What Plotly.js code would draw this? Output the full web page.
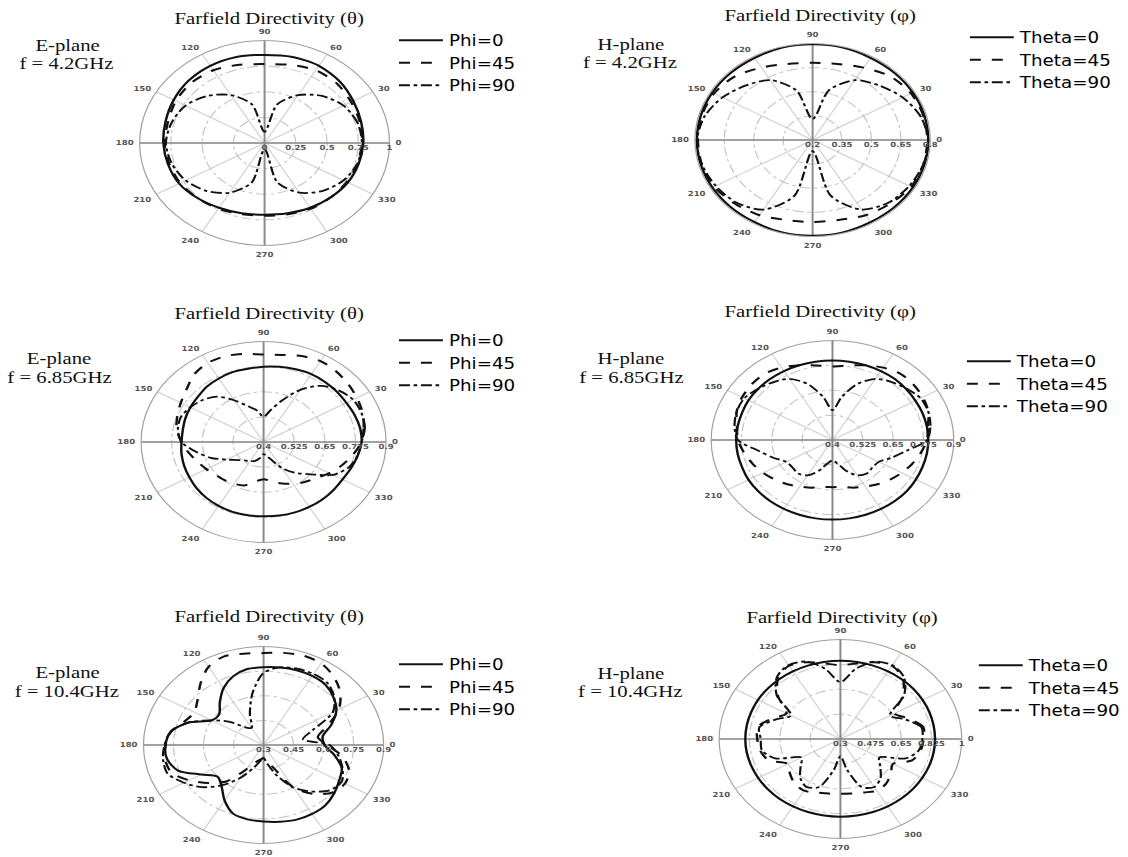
<!DOCTYPE html>
<html><head><meta charset="utf-8">
<script src="https://cdn.plot.ly/plotly-3.0.1.min.js"></script>
<style>
html,body{margin:0;padding:0;background:#fff;overflow:hidden}
/* the reference figure is stretched horizontally; reproduce that stretch */
#chart{width:925px;height:857px;transform:scaleX(1.21946);transform-origin:0 0}
</style>
</head><body><div id="chart"></div>
<script>
// ---------- data ----------
const angles15 = [0,15,30,45,60,75,90,105,120,135,150,165,180,195,210,225,240,255,270,285,300,315,330,345];
const angles10 = [0,10,20,30,40,50,60,70,80,90,100,110,120,130,140,150,160,170,180,190,200,210,220,230,240,250,260,270,280,290,300,310,320,330,340,350];
const angTickVals = [0,30,60,90,120,150,180,210,240,270,300,330];

const phiNames = ['Phi=0','Phi=45','Phi=90'];
const thetaNames = ['Theta=0','Theta=45','Theta=90'];

// E-plane 4.2 GHz
const rTicksE42 = [0,0.25,0.5,0.75,1];
const e42Phi0  = [0.79,0.80,0.82,0.85,0.87,0.87,0.86,0.87,0.87,0.86,0.84,0.82,0.81,0.80,0.79,0.76,0.73,0.71,0.70,0.71,0.73,0.75,0.77,0.78];
const e42Phi45 = [0.78,0.79,0.80,0.82,0.82,0.79,0.77,0.79,0.82,0.83,0.82,0.80,0.80,0.79,0.78,0.76,0.74,0.72,0.71,0.72,0.74,0.75,0.76,0.77];
const e42Phi90 = [0.78,0.77,0.73,0.65,0.54,0.39,0.11,0.39,0.54,0.65,0.73,0.77,0.79,0.77,0.73,0.66,0.56,0.40,0.06,0.40,0.56,0.66,0.73,0.77];

// H-plane 4.2 GHz
const rTicksH42 = [0.2,0.35,0.5,0.65,0.8];
const h42Theta0  = [0.79,0.79,0.79,0.79,0.79,0.795,0.795,0.795,0.79,0.79,0.79,0.79,0.79,0.79,0.79,0.79,0.79,0.795,0.795,0.795,0.79,0.79,0.79,0.79];
const h42Theta45 = [0.785,0.785,0.78,0.76,0.72,0.69,0.68,0.69,0.72,0.76,0.78,0.785,0.785,0.785,0.78,0.76,0.74,0.715,0.71,0.715,0.74,0.76,0.78,0.785];
const h42Theta90 = [0.79,0.77,0.73,0.68,0.63,0.52,0.33,0.52,0.63,0.68,0.73,0.77,0.79,0.785,0.77,0.75,0.70,0.56,0.27,0.56,0.70,0.75,0.77,0.785];

// E-plane 6.85 GHz
const rTicksE685 = [0.4,0.525,0.65,0.775,0.9];
const e685Phi0  = [0.80,0.80,0.795,0.79,0.79,0.79,0.79,0.785,0.78,0.775,0.77,0.77,0.765,0.76,0.75,0.745,0.74,0.735,0.735,0.74,0.745,0.75,0.757,0.763,0.767,0.77,0.77,0.77,0.772,0.773,0.773,0.773,0.772,0.772,0.78,0.79];
const e685Phi45 = [0.80,0.815,0.83,0.84,0.85,0.86,0.865,0.855,0.84,0.835,0.845,0.855,0.855,0.84,0.81,0.79,0.775,0.76,0.735,0.71,0.687,0.67,0.655,0.648,0.64,0.63,0.60,0.585,0.60,0.62,0.64,0.66,0.68,0.71,0.74,0.77];
const e685Phi90 = [0.80,0.82,0.825,0.822,0.80,0.765,0.70,0.62,0.56,0.526,0.56,0.59,0.64,0.695,0.725,0.745,0.76,0.755,0.735,0.68,0.63,0.575,0.54,0.52,0.51,0.50,0.48,0.46,0.47,0.495,0.55,0.60,0.65,0.727,0.77,0.79];

// H-plane 6.85 GHz
const rTicksH685 = [0.4,0.525,0.65,0.775,0.9];
const h685Theta0  = [0.795,0.795,0.795,0.795,0.797,0.80,0.80,0.80,0.80,0.80,0.80,0.80,0.80,0.80,0.80,0.80,0.797,0.797,0.797,0.797,0.797,0.80,0.80,0.80,0.80,0.80,0.80,0.80,0.80,0.80,0.80,0.80,0.80,0.797,0.795,0.795];
const h685Theta45 = [0.79,0.80,0.82,0.83,0.835,0.835,0.82,0.80,0.78,0.77,0.78,0.80,0.82,0.835,0.835,0.83,0.82,0.80,0.79,0.77,0.75,0.73,0.71,0.69,0.67,0.655,0.64,0.637,0.64,0.655,0.67,0.69,0.71,0.73,0.75,0.77];
const h685Theta90 = [0.79,0.81,0.82,0.82,0.80,0.78,0.755,0.70,0.62,0.55,0.62,0.70,0.755,0.78,0.80,0.82,0.82,0.81,0.79,0.71,0.66,0.62,0.615,0.62,0.605,0.565,0.52,0.503,0.52,0.565,0.605,0.62,0.615,0.62,0.66,0.71];

// E-plane 10.4 GHz
const rTicksE104 = [0.3,0.45,0.6,0.75,0.9];
const e104Phi0  = [0.605,0.60,0.66,0.72,0.755,0.78,0.786,0.785,0.78,0.774,0.77,0.745,0.70,0.64,0.59,0.60,0.70,0.77,0.79,0.79,0.755,0.66,0.60,0.627,0.69,0.745,0.76,0.766,0.775,0.784,0.785,0.78,0.76,0.736,0.716,0.66];
const e104Phi45 = [0.62,0.575,0.64,0.735,0.80,0.845,0.875,0.88,0.87,0.86,0.865,0.875,0.85,0.79,0.73,0.70,0.72,0.77,0.79,0.80,0.79,0.73,0.66,0.59,0.47,0.41,0.39,0.38,0.40,0.45,0.60,0.69,0.75,0.77,0.755,0.70];
const e104Phi90 = [0.63,0.50,0.56,0.70,0.76,0.795,0.80,0.795,0.78,0.74,0.62,0.50,0.42,0.44,0.52,0.60,0.70,0.77,0.795,0.81,0.81,0.76,0.70,0.62,0.53,0.45,0.40,0.38,0.42,0.50,0.60,0.67,0.73,0.75,0.72,0.68];

// H-plane 10.4 GHz
const rTicksH104 = [0.3,0.475,0.65,0.825,1];
const h104Theta0  = [0.846,0.846,0.847,0.848,0.85,0.85,0.85,0.85,0.85,0.85,0.85,0.85,0.85,0.85,0.85,0.85,0.849,0.849,0.849,0.849,0.848,0.848,0.848,0.848,0.847,0.847,0.847,0.847,0.847,0.847,0.847,0.847,0.847,0.846,0.846,0.846];
const h104Theta45 = [0.78,0.785,0.72,0.66,0.77,0.86,0.895,0.875,0.84,0.82,0.84,0.875,0.895,0.86,0.77,0.66,0.72,0.785,0.78,0.77,0.74,0.65,0.68,0.71,0.72,0.70,0.69,0.685,0.69,0.70,0.72,0.71,0.68,0.65,0.74,0.77];
const h104Theta90 = [0.773,0.775,0.70,0.63,0.78,0.87,0.90,0.88,0.80,0.70,0.80,0.88,0.90,0.87,0.78,0.63,0.70,0.775,0.76,0.76,0.70,0.56,0.60,0.66,0.69,0.66,0.52,0.42,0.52,0.66,0.69,0.66,0.60,0.56,0.70,0.76];

// ---------- panels (layout settings, positions in final picture pixels) ----------
const W = 1128, H = 857, Wi = 925, S = W / Wi;
const panels = [
  {theta: angles15, ticks: rTicksE42, names: phiNames, series: [e42Phi0, e42Phi45, e42Phi90],
   cx: 266, cy: 143, R: 103, title: 'Farfield Directivity (θ)', tx: 270, ty: 18,
   side1: 'E-plane', side2: 'f = 4.2GHz', sx: 68, sy1: 45, sy2: 64, lx: 395, ly: 24},
  {theta: angles15, ticks: rTicksH42, names: thetaNames, series: [h42Theta0, h42Theta45, h42Theta90],
   cx: 817, cy: 140, R: 97, title: 'Farfield Directivity (φ)', tx: 825, ty: 16,
   side1: 'H-plane', side2: 'f = 4.2GHz', sx: 634, sy1: 44, sy2: 63, lx: 969, ly: 21},
  {theta: angles10, ticks: rTicksE685, names: phiNames, series: [e685Phi0, e685Phi45, e685Phi90],
   cx: 265, cy: 442, R: 101, title: 'Farfield Directivity (θ)', tx: 270, ty: 313,
   side1: 'E-plane', side2: 'f = 6.85GHz', sx: 60, sy1: 358, sy2: 377, lx: 395, ly: 324},
  {theta: angles10, ticks: rTicksH685, names: thetaNames, series: [h685Theta0, h685Theta45, h685Theta90],
   cx: 837, cy: 440, R: 100, title: 'Farfield Directivity (φ)', tx: 825, ty: 311,
   side1: 'H-plane', side2: 'f = 6.85GHz', sx: 635, sy1: 358, sy2: 378, lx: 966, ly: 345},
  {theta: angles10, ticks: rTicksE104, names: phiNames, series: [e104Phi0, e104Phi45, e104Phi90],
   cx: 265, cy: 745, R: 99, title: 'Farfield Directivity (θ)', tx: 270, ty: 616,
   side1: 'E-plane', side2: 'f = 10.4GHz', sx: 68, sy1: 672, sy2: 691, lx: 395, ly: 648},
  {theta: angles10, ticks: rTicksH104, names: thetaNames, series: [h104Theta0, h104Theta45, h104Theta90],
   cx: 845, cy: 739, R: 100, title: 'Farfield Directivity (φ)', tx: 847, ty: 617,
   side1: 'H-plane', side2: 'f = 10.4GHz', sx: 634, sy1: 673, sy2: 691, lx: 978, ly: 649}
];
const dashes = ['solid', 'dash', 'dashdot'];
const widths = [2, 2, 1.8];

const traces = [];
const layout = {
  width: Wi, height: H,
  margin: {l: 0, r: 0, t: 0, b: 0},
  paper_bgcolor: '#fff',
  showlegend: true,
  annotations: []
};

panels.forEach((p, i) => {
  const sub = i === 0 ? 'polar' : 'polar' + (i + 1);
  const leg = i === 0 ? 'legend' : 'legend' + (i + 1);
  const rmin = p.ticks[0], rmax = p.ticks[p.ticks.length - 1];

  // darker crosshair axes through the centre
  traces.push({
    type: 'scatterpolar', subplot: sub, mode: 'lines',
    r: [rmax, rmax, null, rmax, rmax], theta: [0, 180, null, 90, 270],
    line: {color: '#8a8a8a', width: 1.6}, showlegend: false, hoverinfo: 'skip'
  });

  p.series.forEach((vals, k) => {
    traces.push({
      type: 'scatterpolar', subplot: sub, legend: leg,
      mode: 'lines', name: p.names[k],
      r: vals.concat([vals[0]]),
      theta: p.theta.concat([360]),
      line: {color: '#111', width: widths[k], dash: dashes[k], shape: 'spline', smoothing: 0.8}
    });
  });

  const cxi = p.cx / S; // centre in unscaled pixels
  layout[sub] = {
    domain: {
      x: [(cxi - p.R) / Wi, (cxi + p.R) / Wi],
      y: [1 - (p.cy + p.R) / H, 1 - (p.cy - p.R) / H]
    },
    bgcolor: '#fff',
    radialaxis: {
      range: [rmin, rmax], tickmode: 'array', tickvals: p.ticks,
      ticktext: p.ticks.map(String), angle: 0, tickangle: 0, side: 'clockwise',
      showline: false, ticks: '', gridcolor: '#c4c4c4', griddash: 'dashdot', gridwidth: 1,
      tickfont: {family: 'DejaVu Sans', size: 7, color: '#555', weight: 'bold'}
    },
    angularaxis: {
      rotation: 0, direction: 'counterclockwise', tickmode: 'array',
      tickvals: angTickVals, ticktext: angTickVals.map(String),
      showline: true, linecolor: '#a0a0a0', linewidth: 1,
      ticks: 'outside', ticklen: 3, tickcolor: 'rgba(0,0,0,0)',
      gridcolor: '#d0d0d0', gridwidth: 1,
      tickfont: {family: 'DejaVu Sans', size: 7, color: '#555', weight: 'bold'}
    }
  };

  layout[leg] = {
    x: p.lx / W, y: 1 - p.ly / H, xanchor: 'left', yanchor: 'top',
    bgcolor: 'rgba(0,0,0,0)', borderwidth: 0, itemwidth: 36,
    font: {family: 'DejaVu Sans', size: 15, color: '#000'}
  };

  const serif = {family: 'Liberation Serif', size: 17, color: '#111'};
  layout.annotations.push({
    xref: 'paper', yref: 'paper', x: p.tx / W, y: 1 - p.ty / H,
    xanchor: 'center', yanchor: 'middle', showarrow: false, text: p.title, font: serif
  });
  layout.annotations.push({
    xref: 'paper', yref: 'paper', x: p.sx / W, y: 1 - p.sy1 / H,
    xanchor: 'center', yanchor: 'middle', showarrow: false, text: p.side1, font: serif
  });
  layout.annotations.push({
    xref: 'paper', yref: 'paper', x: p.sx / W, y: 1 - p.sy2 / H,
    xanchor: 'center', yanchor: 'middle', showarrow: false, text: p.side2, font: serif
  });
});

Plotly.newPlot('chart', traces, layout, {displayModeBar: false, staticPlot: true});
</script>
</body></html>
